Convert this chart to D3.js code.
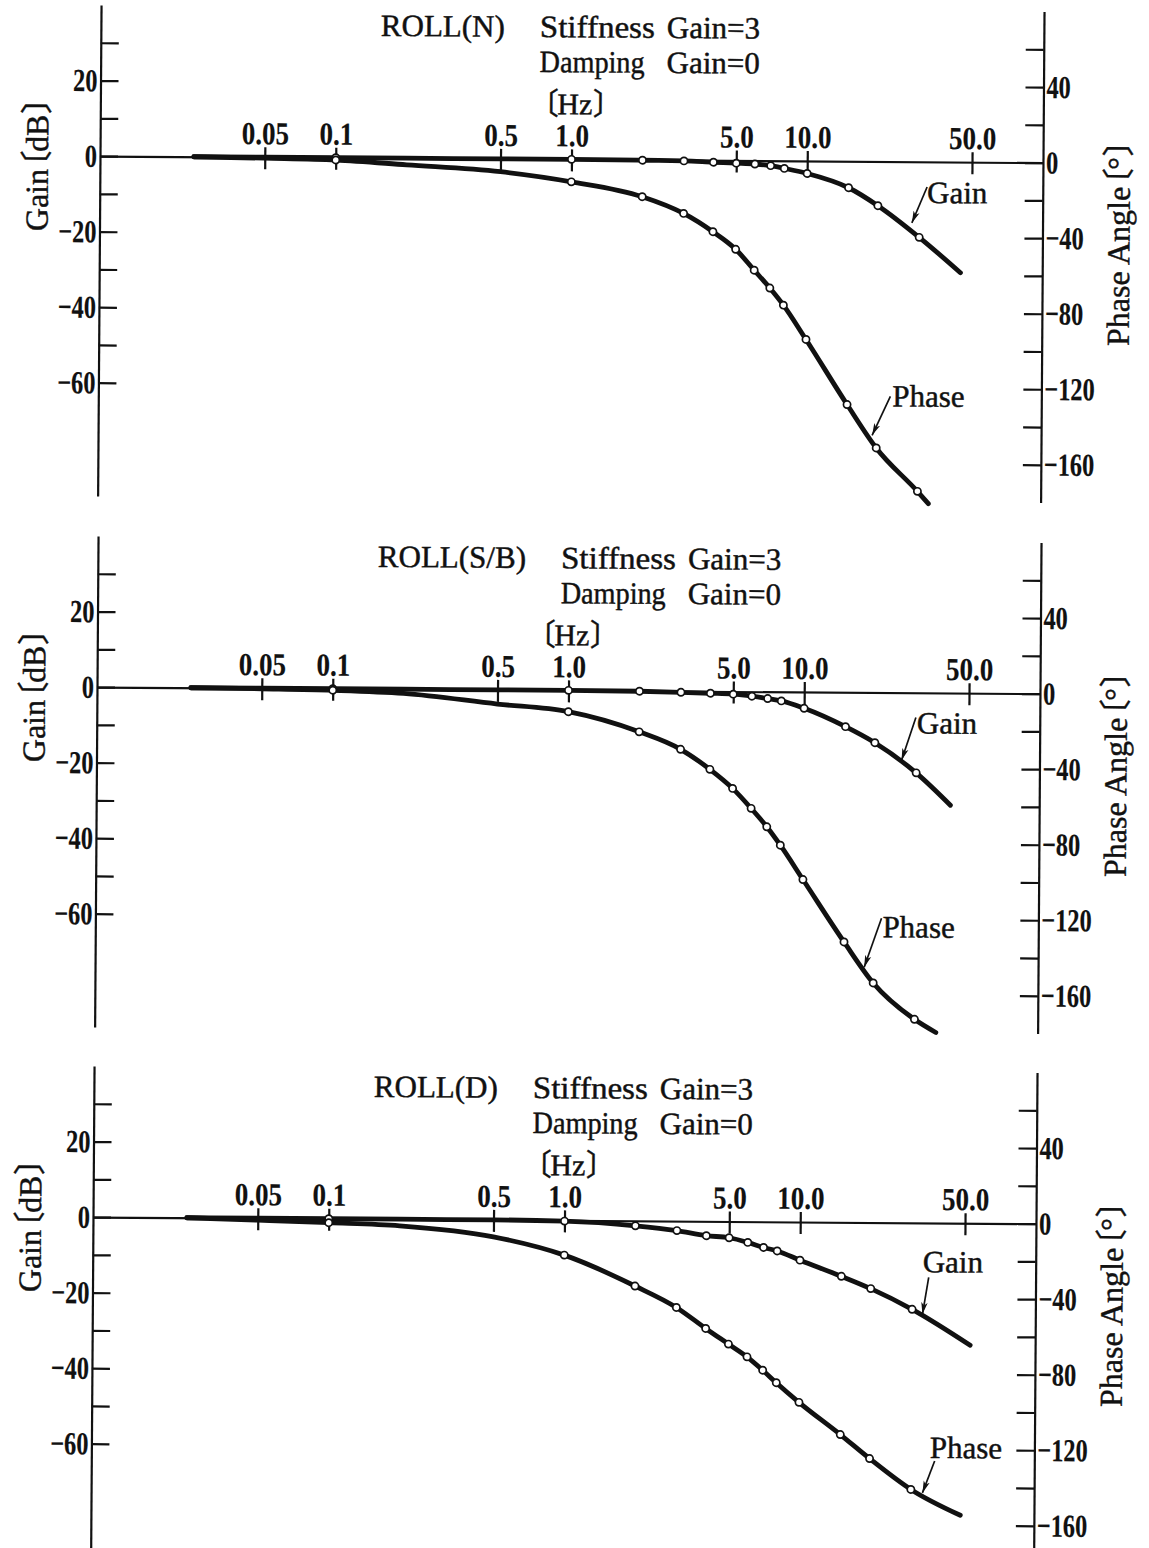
<!DOCTYPE html>
<html>
<head>
<meta charset="utf-8">
<script src="https://cdn.jsdelivr.net/npm/d3@7"></script>
<style>
  body { margin: 0; background: #fff; }
  svg text { font-family: "Liberation Serif", "Noto Sans CJK JP", serif; fill: #111; stroke: #111; stroke-width: 0.45px; }
  .axis path, .axis line { stroke: #111; stroke-width: 2.2; }
  .axis .tick text { font-size: 32px; font-weight: bold; stroke-width: 0.2px; }
</style>
</head>
<body>
<div id="chart"></div>
<script>
// frequencies (Hz) that carry an open circle marker
const freqs = [0.1, 1, 2, 3, 4, 5, 6, 7, 8, 10, 15, 20, 30];
// points read off the curves where there is no marker
const lowFreqs = [0.025, 0.05, 0.2, 0.5];

// ROLL(N)
const gainN = [0, 0, -0.1, -0.2, -0.5, -0.7, -0.9, -1.3, -2.0, -3.3, -7.0, -11.7, -20.0];
const phaseN = [-1.2, -11.9, -19.5, -28.2, -37.8, -47, -58, -67.4, -76.4, -94.5, -128.8, -151.7, -174.5];
const gainLowN = [0, 0, 0, 0];
const phaseLowN = [0, -0.5, -3.5, -6.8];
const gainEndN = [45, -29.3];
const phaseEndN = [33.4, -181];
const gainTipN = [27.9, -16.2];
const phaseTipN = [19.2, -145];

// ROLL(S/B)
const gainSB = [0, 0, -0.1, -0.3, -0.5, -0.7, -1.2, -1.8, -2.4, -4.3, -9.1, -13.3, -21.2];
const phaseSB = [-0.8, -11.3, -21.7, -30.8, -41.3, -51.3, -61.8, -71.5, -81.2, -99.3, -132.2, -153.8, -172.9];
const gainLowSB = [0, 0, 0, 0];
const phaseLowSB = [0, -0.3, -2.2, -7.5];
const gainEndSB = [42, -29.7];
const phaseEndSB = [37, -179.8];
const gainTipSB = [26, -17.9];
const phaseTipSB = [18.3, -145.5];

// ROLL(D)
const gainD = [0, -0.2, -1.3, -2.5, -3.8, -4.3, -5.5, -6.8, -7.7, -10.1, -14.3, -17.5, -22.9];
const phaseD = [-2.1, -18.4, -34.5, -45.7, -56.7, -64.9, -71.6, -78.6, -85.2, -95.5, -112.4, -125, -141.2];
const gainLowD = [0, 0, 0, 0];
const phaseLowD = [0, -1.0, -3.5, -9.0];
const gainEndD = [53, -32.3];
const phaseEndD = [48.7, -154.7];
const gainTipD = [33.2, -24.2];
const phaseTipD = [33.6, -143];

// ticks
const xTicks = [0.05, 0.1, 0.5, 1, 5, 10, 50];
const xTickLabels = ['0.05', '0.1', '0.5', '1.0', '5.0', '10.0', '50.0'];
const gainTicks = [30, 20, 10, 0, -10, -20, -30, -40, -50, -60];
const gainLabels = [20, 0, -20, -40, -60];
const phaseTicks = [60, 40, 20, 0, -20, -40, -60, -80, -100, -120, -140, -160];
const phaseLabels = [40, 0, -40, -80, -120, -160];

// layout
const W = 1149, H = 1548;
const plotW = 943;
const yTop = -151, yBottom = 340;
const tilt = 0.4; // the scanned page is turned a little clockwise

const panels = [
  { title: 'ROLL(N)', ox: 100, oy: 156, gain: gainN, phase: phaseN, gainLow: gainLowN, phaseLow: phaseLowN,
    gainEnd: gainEndN, phaseEnd: phaseEndN, gainTip: gainTipN, phaseTip: phaseTipN,
    gainNote: { tail: [15, -36], label: [15, -20] }, phaseNote: { tail: [18, -39], label: [20, -29] } },
  { title: 'ROLL(S/B)', ox: 97, oy: 687, gain: gainSB, phase: phaseSB, gainLow: gainLowSB, phaseLow: phaseLowSB,
    gainEnd: gainEndSB, phaseEnd: phaseEndSB, gainTip: gainTipSB, phaseTip: phaseTipSB,
    gainNote: { tail: [14, -43], label: [15, -27] }, phaseNote: { tail: [17, -49], label: [18, -30] } },
  { title: 'ROLL(D)', ox: 93, oy: 1217, gain: gainD, phase: phaseD, gainLow: gainLowD, phaseLow: phaseLowD,
    gainEnd: gainEndD, phaseEnd: phaseEndD, gainTip: gainTipD, phaseTip: phaseTipD,
    gainNote: { tail: [6, -37], label: [0, -42] }, phaseNote: { tail: [12, -32], label: [7, -35] } }
];

const x = d3.scaleLog().domain([0.01, 100]).range([0, plotW]);
const yGain = d3.scaleLinear().domain([40, -90]).range([yTop, yBottom]);
const yPhase = d3.scaleLinear().domain([80, -180]).range([yTop, yBottom]);
const num = d3.format('d');

const svg = d3.select('#chart').append('svg')
  .attr('width', W).attr('height', H)
  .style('background', '#fff');

svg.append('defs').append('marker')
  .attr('id', 'arrow')
  .attr('viewBox', '0 0 12 8')
  .attr('refX', 12).attr('refY', 4)
  .attr('markerWidth', 12).attr('markerHeight', 8)
  .attr('markerUnits', 'userSpaceOnUse')
  .attr('orient', 'auto')
  .append('path')
  .attr('d', 'M0,0.8 L12,4 L0,7.2 L3,4 Z')
  .attr('fill', '#111');

// text with CJK tortoise-shell brackets pulled in tight
function bracketText(sel, pre, inner) {
  if (pre) sel.append('tspan').text(pre);
  sel.append('tspan').attr('dx', pre ? '-0.42em' : null).text('〔');
  sel.append('tspan').attr('dx', '-0.05em').text(inner);
  sel.append('tspan').attr('dx', '0.02em').text('〕');
  return sel;
}

panels.forEach(p => {
  const g = svg.append('g').attr('transform', `translate(${p.ox},${p.oy}) rotate(${tilt})`);

  // left: gain axis
  g.append('g').attr('class', 'axis')
    .call(d3.axisLeft(yGain).tickValues(gainTicks).tickSizeInner(-18).tickSizeOuter(0).tickPadding(4)
      .tickFormat(d => gainLabels.includes(d) ? num(d) : ''))
    .selectAll('text').attr('transform', 'scale(0.76,1)');

  // right: phase axis
  g.append('g').attr('class', 'axis').attr('transform', `translate(${plotW},0)`)
    .call(d3.axisRight(yPhase).tickValues(phaseTicks).tickSizeInner(-18).tickSizeOuter(0).tickPadding(4)
      .tickFormat(d => phaseLabels.includes(d) ? num(d) : ''))
    .selectAll('text').attr('transform', 'scale(0.76,1)');

  // frequency axis along 0 dB, ticks cross the line
  g.append('g').attr('class', 'axis').attr('transform', `translate(0,${yGain(0)})`)
    .call(d3.axisTop(x).tickValues(xTicks).tickSizeInner(10).tickSizeOuter(0).tickPadding(3)
      .tickFormat((d, i) => xTickLabels[i]))
    .selectAll('text').attr('transform', 'scale(0.84,1)');
  g.append('g').attr('class', 'axis').attr('transform', `translate(0,${yGain(0)})`)
    .call(d3.axisBottom(x).tickValues(xTicks).tickSizeInner(12).tickSizeOuter(0).tickFormat(''))
    .select('.domain').remove();

  // curves
  const byFreq = (a, b) => a[0] - b[0];
  const gainPts = lowFreqs.map((f, i) => [f, p.gainLow[i]])
    .concat(freqs.map((f, i) => [f, p.gain[i]]), [p.gainEnd]).sort(byFreq);
  const phasePts = lowFreqs.map((f, i) => [f, p.phaseLow[i]])
    .concat(freqs.map((f, i) => [f, p.phase[i]]), [p.phaseEnd]).sort(byFreq);

  const gainLine = d3.line().x(d => x(d[0])).y(d => yGain(d[1])).curve(d3.curveMonotoneX);
  const phaseLine = d3.line().x(d => x(d[0])).y(d => yPhase(d[1])).curve(d3.curveMonotoneX);

  g.append('path').attr('d', gainLine(gainPts))
    .attr('fill', 'none').attr('stroke', '#111').attr('stroke-width', 4.8).attr('stroke-linecap', 'round');
  g.append('path').attr('d', phaseLine(phasePts))
    .attr('fill', 'none').attr('stroke', '#111').attr('stroke-width', 4.8).attr('stroke-linecap', 'round');

  // markers
  g.append('g').selectAll('circle')
    .data(freqs.map((f, i) => [f, p.gain[i]]))
    .join('circle')
    .attr('cx', d => x(d[0])).attr('cy', d => yGain(d[1])).attr('r', 3.6)
    .attr('fill', '#fff').attr('stroke', '#111').attr('stroke-width', 1.7);
  g.append('g').selectAll('circle')
    .data(freqs.map((f, i) => [f, p.phase[i]]))
    .join('circle')
    .attr('cx', d => x(d[0])).attr('cy', d => yPhase(d[1])).attr('r', 3.6)
    .attr('fill', '#fff').attr('stroke', '#111').attr('stroke-width', 1.7);

  // curve labels with arrows
  function note(tip, yScale, off, label) {
    const tx = x(tip[0]), ty = yScale(tip[1]);
    g.append('line')
      .attr('x1', tx + off.tail[0]).attr('y1', ty + off.tail[1])
      .attr('x2', tx).attr('y2', ty)
      .attr('stroke', '#111').attr('stroke-width', 1.7)
      .attr('marker-end', 'url(#arrow)');
    g.append('text')
      .attr('x', tx + off.label[0]).attr('y', ty + off.label[1])
      .attr('font-size', 31).text(label);
  }
  note(p.gainTip, yGain, p.gainNote, 'Gain');
  note(p.phaseTip, yPhase, p.phaseNote, 'Phase');

  // title block, two rows
  const t = g.append('text').attr('x', 280).attr('y', -122).attr('font-size', 31).text(p.title);
  const sx = 280 + t.node().getComputedTextLength() + 35;
  const gx = sx + 127;
  g.append('text').attr('x', sx).attr('y', -122).attr('font-size', 31)
    .attr('textLength', 115).attr('lengthAdjust', 'spacingAndGlyphs').text('Stiffness');
  g.append('text').attr('x', gx).attr('y', -122).attr('font-size', 31).text('Gain=3');
  g.append('text').attr('x', sx).attr('y', -87).attr('font-size', 31)
    .attr('textLength', 105).attr('lengthAdjust', 'spacingAndGlyphs').text('Damping');
  g.append('text').attr('x', gx).attr('y', -87).attr('font-size', 31).text('Gain=0');

  // unit of frequency
  bracketText(g.append('text').attr('x', x(1) + 4).attr('y', -45).attr('font-size', 30)
    .attr('text-anchor', 'middle'), null, 'Hz');

  // axis titles
  bracketText(g.append('text').attr('font-size', 32).attr('text-anchor', 'middle')
    .attr('transform', `translate(${-52},${1}) rotate(-90)`), 'Gain', 'dB');
  bracketText(g.append('text').attr('font-size', 32).attr('text-anchor', 'middle')
    .attr('transform', `translate(${plotW + 87},${72}) rotate(-90)`), 'Phase Angle', '°');
});
</script>
</body>
</html>
